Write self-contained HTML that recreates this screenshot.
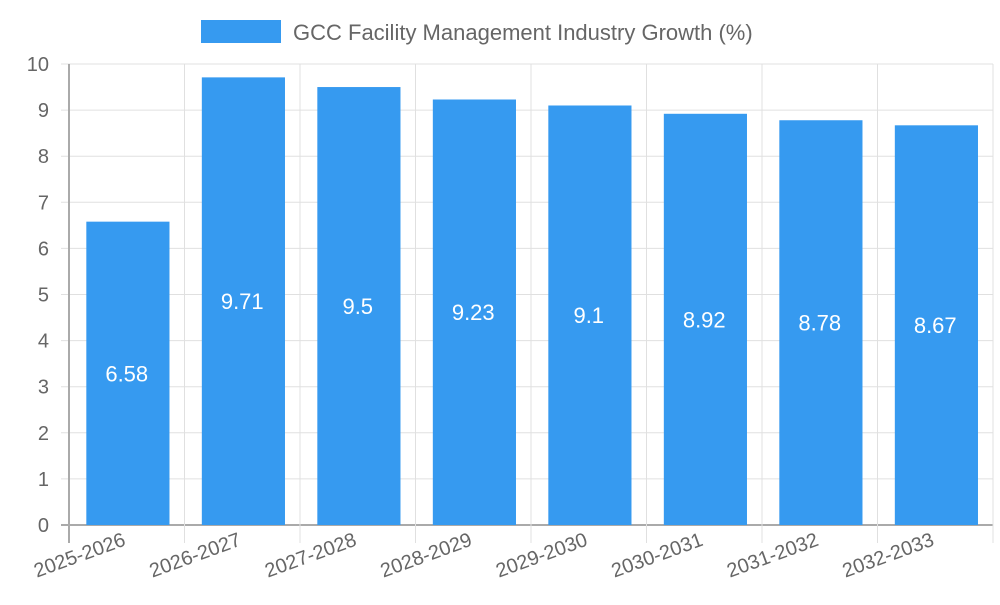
<!DOCTYPE html>
<html><head><meta charset="utf-8"><style>
body{margin:0;background:#fff;width:1000px;height:600px;overflow:hidden}
svg{font-family:"Liberation Sans",sans-serif}
</style></head><body>
<svg id="c" width="1000" height="600">
<g>
<rect x="201" y="20" width="80" height="23" fill="#369af0"/>
<text x="293" y="40" font-size="22" fill="#666">GCC Facility Management Industry Growth (%)</text>
</g>
</svg>
<script>
const categories=["2025-2026","2026-2027","2027-2028","2028-2029","2029-2030","2030-2031","2031-2032","2032-2033"];
const values=[6.58,9.71,9.5,9.23,9.1,8.92,8.78,8.67];
const yTicks=[0,1,2,3,4,5,6,7,8,9,10];
const svg=document.getElementById('c');
const NS='http://www.w3.org/2000/svg';
const L=69,R=993,T=64,B=525,yMax=10;
const bw=(R-L)/categories.length;
const y=v=>B-(v/yMax)*(B-T);
const x=i=>L+i*bw;
function mk(t,a,txt){const e=document.createElementNS(NS,t);for(const k in a)e.setAttribute(k,a[k]);if(txt!==undefined)e.textContent=txt;svg.appendChild(e);return e;}
yTicks.forEach(t=>{
 const g=mk('line',{x1:L-8,x2:R,y1:y(t),y2:y(t),stroke:t===0?'#aaa':'#e0e0e0','stroke-width':t===0?2:1});
 
 
 const tx=mk('text',{x:L-20,y:y(t)+7,'font-size':20,fill:'#666','text-anchor':'end'},t);
 
 
});
for(let i=0;i<=categories.length;i++){
 const g=mk('line',{x1:x(i),x2:x(i),y1:T,y2:B+18,stroke:i===0?'#aaa':'#e0e0e0','stroke-width':i===0?2:1});
 
 
}
categories.forEach((c,i)=>{
 const bx=x(i)+bw*0.15, w=bw*0.72;
 const r=mk('rect',{x:bx,y:y(values[i]),width:w,height:B-y(values[i]),fill:'#369af0'});
 
 
 const cx=x(i)+bw/2;
 const vt=mk('text',{x:cx,y:(y(values[i])+B)/2+8,'font-size':22,fill:'#fff','text-anchor':'middle'},values[i]);
 
 
 const lt=mk('text',{x:cx,y:545,'font-size':20,fill:'#666','text-anchor':'end',transform:`rotate(-20 ${cx} 545)`},c);
 
 
});
</script>
</body></html>
